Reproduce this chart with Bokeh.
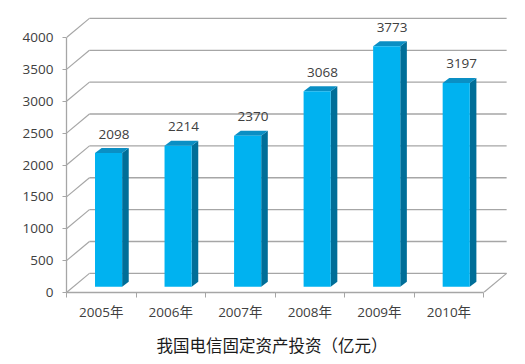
from bokeh.plotting import figure
from bokeh.models import FixedTicker, Title
from bokeh.core.properties import value
from bokeh.embed import file_html
from bokeh.resources import INLINE

# ---- data ----
years = ["2005年", "2006年", "2007年", "2008年", "2009年", "2010年"]
invest = [2098, 2214, 2370, 3068, 3773, 3197]
value_labels = ["2098", "2214", "2370", "3068", "3773", "3197"]
y_ticks = [0, 500, 1000, 1500, 2000, 2500, 3000, 3500, 4000]
title_text = "我国电信固定资产投资（亿元）"

# ---- 3D style constants (data units) ----
WX, WY = 0.33, 300          # depth of the walls
BAR_L, BAR_R = 0.41, 0.80   # bar front face within a category slot
OY = 90                     # bar front lifted by floor depth
DBX, DBY = 0.095, 78        # bar depth
LABEL_PAD = 220

FONT = "'Open Sans', 'Noto Sans CJK SC', sans-serif"
GRID = "#a6a6a6"
TXT = "#404040"

p = figure(x_range=(0, 6.4), y_range=(0, 4330),
           frame_width=445, frame_height=276,
           min_border_left=66, min_border_top=16, min_border_right=8,
           min_border_bottom=62,
           output_backend="svg", toolbar_location=None)
p.outline_line_color = None
p.xgrid.visible = False
p.ygrid.visible = False
p.background_fill_color = "white"

n = len(years)

# back wall gridlines
p.segment(x0=[WX] * len(y_ticks), y0=[g + WY for g in y_ticks],
          x1=[n + WX] * len(y_ticks), y1=[g + WY for g in y_ticks],
          line_color=GRID, line_width=1.3)
# side wall diagonals
p.segment(x0=[0] * len(y_ticks), y0=y_ticks,
          x1=[WX] * len(y_ticks), y1=[g + WY for g in y_ticks],
          line_color=GRID, line_width=1.2)
# right floor edge
p.segment(x0=[n], y0=[0], x1=[n + WX], y1=[WY], line_color=GRID, line_width=1.2)

# bars
lefts = [i + BAR_L for i in range(n)]
rights = [i + BAR_R for i in range(n)]
bottoms = [OY] * n
tops = [v + OY for v in invest]

side_xs = [[r, r + DBX, r + DBX, r] for r in rights]
side_ys = [[OY, OY + DBY, t + DBY, t] for t in tops]
top_xs = [[l, r, r + DBX, l + DBX] for l, r in zip(lefts, rights)]
top_ys = [[t, t, t + DBY, t + DBY] for t in tops]

p.patches(xs=side_xs, ys=side_ys, fill_color="#006e98", line_color=None)
p.patches(xs=top_xs, ys=top_ys, fill_color="#0a8fc4", line_color=None)
p.quad(left=lefts, right=rights, bottom=bottoms, top=tops,
       fill_color="#00b2f0", line_color=None)

# value labels
p.text(x=[(l + r) / 2 + DBX / 2 + 0.03 for l, r in zip(lefts, rights)],
       y=[t + DBY + LABEL_PAD for t in tops], text=value_labels,
       text_align="center", text_baseline="alphabetic",
       text_font=value(FONT), text_font_size="13.5px", text_color=TXT)

# y axis
yax = p.yaxis[0]
yax.ticker = FixedTicker(ticks=y_ticks, minor_ticks=[])
yax.bounds = (0, 4000)
yax.axis_line_color = GRID
yax.axis_line_width = 1.3
yax.major_tick_line_color = GRID
yax.major_tick_out = 4
yax.major_tick_in = 0
yax.minor_tick_line_color = None
yax.major_label_standoff = 9
yax.major_label_text_font = FONT
yax.major_label_text_font_size = "13.5px"
yax.major_label_text_color = TXT

# x axis
xax = p.xaxis[0]
centers = [i + 0.5 for i in range(n)]
xax.ticker = FixedTicker(ticks=centers, minor_ticks=list(range(n + 1)))
xax.major_label_overrides = {c: y for c, y in zip(centers, years)}
xax.bounds = (0, n)
xax.axis_line_color = GRID
xax.axis_line_width = 1.3
xax.major_tick_out = 0
xax.major_tick_in = 0
xax.minor_tick_line_color = GRID
xax.minor_tick_out = 5
xax.minor_tick_in = 0
xax.major_label_standoff = 5
xax.major_label_text_font = FONT
xax.major_label_text_font_size = "13.5px"
xax.major_label_text_color = TXT

t = Title(text=title_text, align="left", offset=90, standoff=15,
          text_font="Noto Sans CJK SC", text_font_size="16.5px",
          text_font_style="normal", text_color="#1a1a1a")
p.add_layout(t, "below")

open("out.html", "w").write(file_html(p, INLINE))
